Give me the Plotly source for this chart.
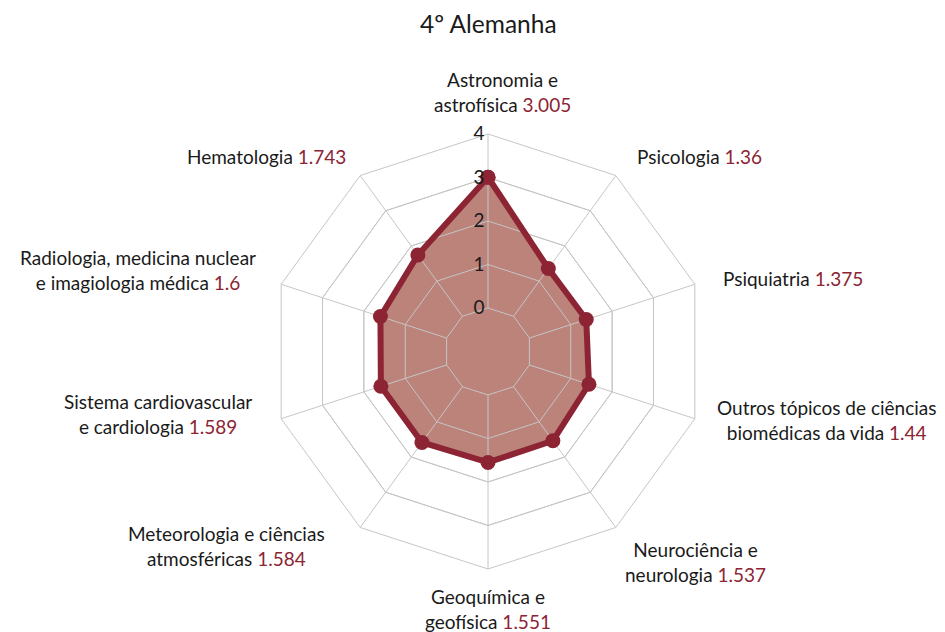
import plotly.graph_objects as go

title_text = "4º Alemanha"
categories = [
    "Astronomia e astrofísica",
    "Psicologia",
    "Psiquiatria",
    "Outros tópicos de ciências biomédicas da vida",
    "Neurociência e neurologia",
    "Geoquímica e geofísica",
    "Meteorologia e ciências atmosféricas",
    "Sistema cardiovascular e cardiologia",
    "Radiologia, medicina nuclear e imagiologia médica",
    "Hematologia",
]
label_lines = [
    ["Astronomia e", "astrofísica"],
    ["Psicologia"],
    ["Psiquiatria"],
    ["Outros tópicos de ciências", "biomédicas da vida"],
    ["Neurociência e", "neurologia"],
    ["Geoquímica e", "geofísica"],
    ["Meteorologia e ciências", "atmosféricas"],
    ["Sistema cardiovascular", "e cardiologia"],
    ["Radiologia, medicina nuclear", "e imagiologia médica"],
    ["Hematologia"],
]
values = [3.005, 1.36, 1.375, 1.44, 1.537, 1.551, 1.584, 1.589, 1.6, 1.743]
value_text = ["3.005", "1.36", "1.375", "1.44", "1.537", "1.551", "1.584", "1.589", "1.6", "1.743"]
radial_ticks = [0, 1, 2, 3, 4]
radial_min = -1  # inner empty ring below 0

# layout / style
W, H = 945, 632
OFF = 8  # page body margin
CX, CY, R = 488 - OFF, 351.5 - OFF, 217.5
LINE_COLOR = "#8C2434"
FILL_COLOR = "rgba(180,118,108,0.9)"
GRID_COLOR = "#c6c6c6"
TEXT_COLOR = "#1a1a1a"
FONT = "Lato"
FS = 19
# label placement (pixel anchor in page, xanchor)
label_pos = [
    (502, 92, "center"),
    (635, 156, "left"),
    (721, 278, "left"),
    (826, 420, "center"),
    (695, 562, "center"),
    (488, 609, "center"),
    (226, 546, "center"),
    (158, 414, "center"),
    (138, 270, "center"),
    (348, 156, "right"),
]

fig = go.Figure()

closed_cats = categories + [categories[0]]
closed_vals = values + [values[0]]

# filled area
fig.add_trace(go.Scatterpolar(
    r=closed_vals, theta=closed_cats, mode="none", fill="toself",
    fillcolor=FILL_COLOR, hoverinfo="skip", showlegend=False,
))

# grid drawn over the fill (rings and spokes)
gr, gt = [], []
for t in radial_ticks[:-1]:
    gr += [t] * len(closed_cats) + [None]
    gt += closed_cats + [None]
for c in categories:
    gr += [radial_ticks[0], radial_ticks[-1], None]
    gt += [c, c, None]
fig.add_trace(go.Scatterpolar(
    r=gr, theta=gt, mode="lines", line=dict(color=GRID_COLOR, width=1),
    connectgaps=False, hoverinfo="skip", showlegend=False,
))

# data line + markers
fig.add_trace(go.Scatterpolar(
    r=closed_vals, theta=closed_cats, mode="lines+markers",
    line=dict(color=LINE_COLOR, width=6),
    marker=dict(color=LINE_COLOR, size=15),
    showlegend=False,
))

fig.update_layout(
    width=W, height=H,
    margin=dict(l=0, r=0, t=0, b=0),
    paper_bgcolor="white",
    font=dict(family=FONT, size=FS, color=TEXT_COLOR),
    polar=dict(
        domain=dict(x=[(CX - R) / W, (CX + R) / W], y=[(H - CY - R) / H, (H - CY + R) / H]),
        bgcolor="white",
        gridshape="linear",
        radialaxis=dict(
            range=[radial_min, radial_ticks[-1]], tickvals=radial_ticks,
            angle=90, side="counterclockwise", tickangle=90,
            showline=False, ticks="", gridcolor=GRID_COLOR, gridwidth=1,
            tickfont=dict(family=FONT, size=FS, color=TEXT_COLOR),
        ),
        angularaxis=dict(
            categoryarray=categories, categoryorder="array",
            rotation=90, direction="clockwise",
            showticklabels=False, ticks="", showgrid=False,
            showline=True, linecolor=GRID_COLOR, linewidth=1,
        ),
    ),
)

annotations = [dict(
    text=title_text, x=CX / W, y=1, xref="paper", yref="paper",
    xanchor="center", yanchor="top", borderpad=0, showarrow=False,
    font=dict(family=FONT, size=24.5, color=TEXT_COLOR),
)]
for lines, vt, (px, py, xa) in zip(label_lines, value_text, label_pos):
    txt = "<br>".join(lines[:-1] + [lines[-1] + f" <span style='color:{LINE_COLOR}'>{vt}</span>"])
    annotations.append(dict(
        text=txt, x=(px - OFF) / W, y=1 - (py - OFF) / H, xref="paper", yref="paper",
        xanchor=xa, yanchor="middle", align="center", showarrow=False,
        font=dict(family=FONT, size=FS, color=TEXT_COLOR),
    ))
fig.update_layout(annotations=annotations)

fig.write_html("out.html")
